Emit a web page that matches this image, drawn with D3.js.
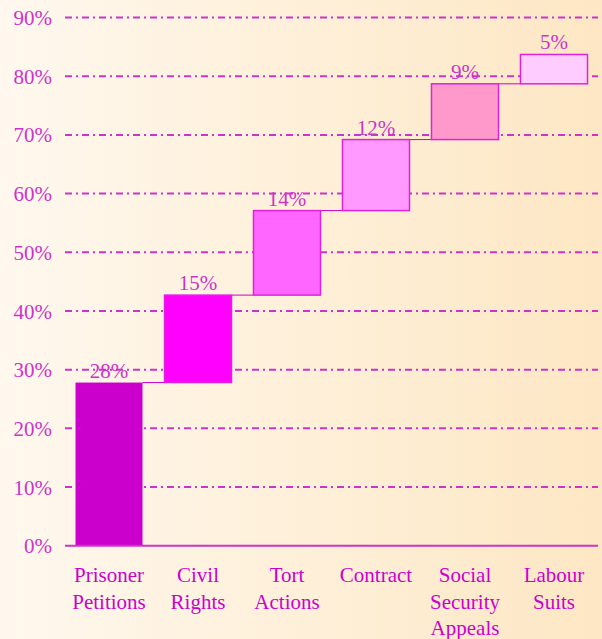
<!DOCTYPE html>
<html>
<head>
<meta charset="utf-8">
<script src="https://cdn.jsdelivr.net/npm/d3@7"></script>
<style>
  body { margin: 0; }
  svg { display: block; }
</style>
</head>
<body>
<svg width="602" height="639"></svg>
<script>
const categories = ['Prisoner Petitions', 'Civil Rights', 'Tort Actions', 'Contract', 'Social Security Appeals', 'Labour Suits'];
const categoryLines = [['Prisoner', 'Petitions'], ['Civil', 'Rights'], ['Tort', 'Actions'], ['Contract'], ['Social', 'Security', 'Appeals'], ['Labour', 'Suits']];
const values = [27.8, 14.9, 14.4, 12.1, 9.5, 5.0];
const valueLabels = ['28%', '15%', '14%', '12%', '9%', '5%'];
const barColors = ['#cc00cc', '#ff00ff', '#ff66ff', '#ff99ff', '#ff99cc', '#ffccff'];
const yTicks = [0, 10, 20, 30, 40, 50, 60, 70, 80, 90];

function Start(){
    const svg = d3.select('svg');
    const width = +svg.attr('width');
    const height = +svg.attr('height');
    const font = '"Liberation Serif", "DejaVu Serif", serif';
    const ink = '#cc33cc';

    // background gradient
    const grad = svg.append('defs').append('linearGradient')
        .attr('id', 'bg')
        .attr('x1', '0%').attr('x2', '100%').attr('y1', '0%').attr('y2', '0%');
    grad.append('stop').attr('offset', '0%').attr('stop-color', '#fff8ee');
    grad.append('stop').attr('offset', '100%').attr('stop-color', '#fde7c4');
    svg.append('rect')
        .attr('width', width).attr('height', height)
        .attr('fill', 'url(#bg)');

    const x = d3.scaleBand()
        .domain(categories)
        .range([65, 598])
        .paddingInner(0.247)
        .paddingOuter(0.118);
    const y = d3.scaleLinear()
        .domain([0, 90])
        .range([545.7, 17.5]);

    // running totals for the waterfall
    let total = 0;
    const steps = values.map((v, i) => {
        const s = { cat: categories[i], start: total, end: total + v, label: valueLabels[i], color: barColors[i] };
        total += v;
        return s;
    });

    // grid lines
    svg.append('g')
        .selectAll('line')
        .data(yTicks.filter(t => t > 0))
        .join('line')
            .attr('x1', 65).attr('x2', 598)
            .attr('y1', d => y(d)).attr('y2', d => y(d))
            .attr('stroke', ink)
            .attr('stroke-width', 2)
            .attr('stroke-dasharray', '7,4,2,4');

    // tick labels
    svg.append('g')
        .selectAll('text')
        .data(yTicks)
        .join('text')
            .attr('x', 52)
            .attr('y', d => y(d))
            .attr('dy', '0.36em')
            .attr('text-anchor', 'end')
            .attr('font-family', font)
            .attr('font-size', 21)
            .attr('fill', ink)
            .text(d => d + '%');

    // connectors from top of each bar to the next one
    svg.append('g')
        .selectAll('line')
        .data(steps.slice(0, -1))
        .join('line')
            .attr('x1', d => x(d.cat) + x.bandwidth())
            .attr('x2', (d, i) => x(steps[i + 1].cat))
            .attr('y1', d => y(d.end)).attr('y2', d => y(d.end))
            .attr('stroke', '#cc00cc')
            .attr('stroke-width', 1);

    // bars
    svg.append('g')
        .selectAll('rect')
        .data(steps)
        .join('rect')
            .attr('x', d => x(d.cat))
            .attr('width', x.bandwidth())
            .attr('y', d => y(d.end))
            .attr('height', d => y(d.start) - y(d.end))
            .attr('fill', d => d.color)
            .attr('stroke', (d, i) => i === 0 ? 'none' : '#dd22dd')
            .attr('stroke-width', 1.5);

    // value labels
    svg.append('g')
        .selectAll('text')
        .data(steps)
        .join('text')
            .attr('x', d => x(d.cat) + x.bandwidth() / 2)
            .attr('y', d => y(d.end) - 5)
            .attr('text-anchor', 'middle')
            .attr('font-family', font)
            .attr('font-size', 21)
            .attr('fill', ink)
            .text(d => d.label);

    // x axis line
    svg.append('line')
        .attr('x1', 65).attr('x2', 598)
        .attr('y1', y(0)).attr('y2', y(0))
        .attr('stroke', ink)
        .attr('stroke-width', 2);

    // category labels
    svg.append('g')
        .selectAll('text')
        .data(categories)
        .join('text')
            .attr('x', d => x(d) + x.bandwidth() / 2)
            .attr('y', 582)
            .attr('text-anchor', 'middle')
            .attr('font-family', font)
            .attr('font-size', 21)
            .attr('fill', '#cc00cc')
            .selectAll('tspan')
            .data((d, i) => categoryLines[i])
            .join('tspan')
                .attr('x', function(){ return this.parentNode.getAttribute('x'); })
                .attr('dy', (d, j) => j === 0 ? 0 : 26.7)
                .text(d => d);
}
Start();
</script>
</body>
</html>
